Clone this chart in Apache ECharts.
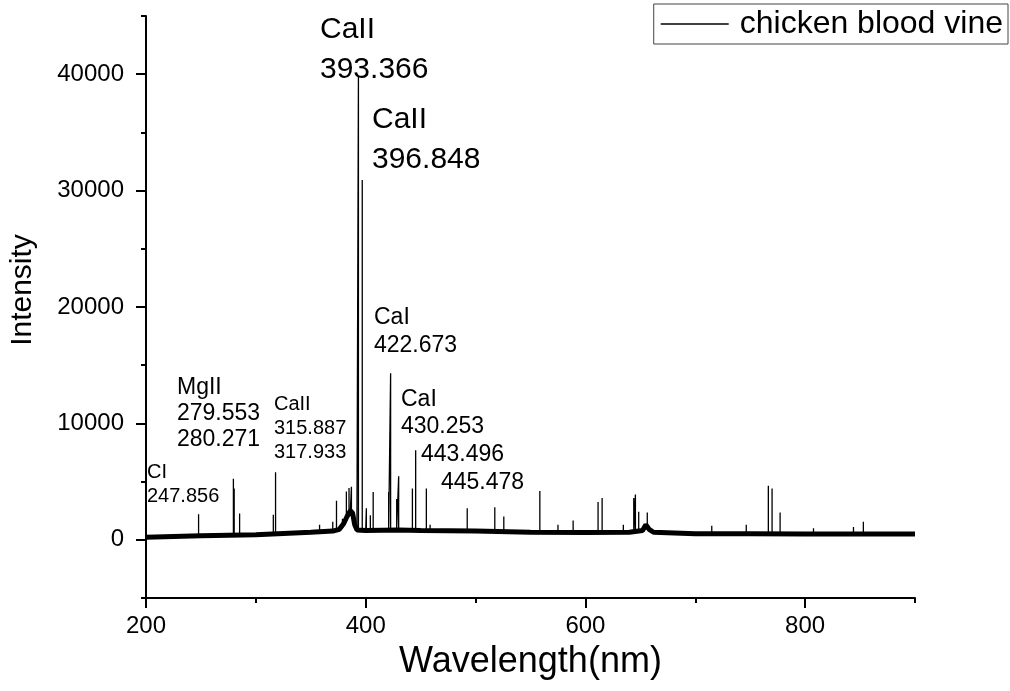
<!DOCTYPE html>
<html>
<head>
<meta charset="utf-8">
<title>chicken blood vine LIBS spectrum</title>
<script src="https://cdn.jsdelivr.net/npm/echarts@6/dist/echarts.min.js"></script>
<style>
  html, body { margin: 0; padding: 0; background: #fff; }
  #chart { width: 1010px; height: 691px; }
</style>
</head>
<body>
<div id="chart"></div>
<script>
// baseline of the spectrum (centre of the noise band)
const baseWl  = [200, 250, 300, 350, 370, 376, 380, 383, 386, 388, 390, 392, 400, 430, 450, 500, 550, 600, 640, 652, 655, 658, 662, 700, 750, 800, 850, 900];
const baseInt = [220, 350, 430, 650, 750, 900, 1400, 2000, 2500, 2300, 1300, 850, 800, 850, 800, 750, 650, 630, 650, 800, 1300, 900, 650, 520, 520, 500, 500, 490];

// emission lines: wavelength, peak top, foot of the peak
const peakWl   = [247.86, 279.55, 280.27, 285.21, 315.89, 317.93, 358.0, 370.0, 373.4, 378.8, 382.4, 384.8, 387.0, 393.37, 396.85, 400.6, 404.2, 406.8, 420.9, 422.67, 428.2, 430.0, 442.5, 445.48, 455.2, 458.6, 492.4, 517.5, 525.7, 558.5, 575.0, 588.8, 611.5, 615.2, 634.5, 644.0, 645.5, 648.5, 656.3, 715.0, 746.4, 766.5, 769.9, 777.2, 807.6, 844.0, 853.0];
const peakTop  = [2200, 5250, 4400, 2250, 2150, 5800, 1300, 1550, 3350, 1800, 4150, 4450, 4550, 39800, 30900, 2700, 2100, 4100, 4100, 14300, 3500, 5450, 4400, 7700, 4400, 1300, 2700, 2800, 2000, 4200, 1300, 1650, 3250, 3600, 1300, 3600, 3900, 2400, 2350, 1200, 1300, 4650, 4400, 2350, 1000, 1100, 1550];
const peakFoot = [350, 420, 420, 420, 500, 500, 650, 750, 800, 1000, 1700, 2300, 2400, 800, 800, 800, 800, 800, 850, 850, 900, 950, 800, 800, 800, 800, 750, 750, 750, 650, 630, 630, 630, 630, 650, 650, 650, 700, 1100, 520, 520, 520, 520, 520, 500, 500, 500];

// line labels
const noteText = ['CaII\n393.366', 'CaII\n396.848', 'CaI\n422.673', 'CaI\n430.253', '443.496', '445.478', 'MgII\n279.553\n280.271', 'CaII\n315.887\n317.933', 'CI\n247.856'];

// axis ticks
const xLabels = [200, 400, 600, 800];
const xMinor  = [300, 500, 700, 900];
const yLabels = [0, 10000, 20000, 30000, 40000];
const yMinor  = [-5000, 5000, 15000, 25000, 35000, 45000];

const seriesName = 'chicken blood vine';
const font = '"Liberation Sans", Arial, sans-serif';

// one polyline: baseline points plus a vertical spike for each line
const trace = [];
baseWl.forEach((w, i) => trace.push([w, baseInt[i]]));
peakWl.forEach((w, i) => {
  trace.push([w, peakFoot[i]]);
  trace.push([w, peakTop[i]]);
  trace.push([w, peakFoot[i]]);
});
trace.sort((a, b) => a[0] - b[0]);

const band = baseWl.map((w, i) => [w, baseInt[i]]);

// label placement (pixels) and font size for each entry of noteText
const notePos = [
  { x: 320, y: 10, size: 30, lh: 40 },
  { x: 372, y: 100, size: 30, lh: 40 },
  { x: 374, y: 304, size: 23, lh: 28 },
  { x: 401, y: 386, size: 23, lh: 27 },
  { x: 421, y: 441, size: 23, lh: 27 },
  { x: 441, y: 469, size: 23, lh: 27 },
  { x: 177, y: 375, size: 23, lh: 26 },
  { x: 274, y: 392, size: 20, lh: 24 },
  { x: 147, y: 460, size: 20, lh: 24 }
];

const chart = echarts.init(document.getElementById('chart'));

const tickStyle = { color: '#000', width: 2 };

const option = {
  animation: false,
  backgroundColor: '#fff',
  grid: { left: 145, right: 95, top: 16, bottom: 93, containLabel: false },
  legend: {
    data: [{ name: seriesName, icon: 'rect' }],
    right: 2,
    top: 4,
    padding: [4, 5, 4, 7],
    borderColor: '#444',
    borderWidth: 1,
    itemWidth: 68,
    itemHeight: 1.5,
    itemStyle: { color: '#000' },
    textStyle: { fontSize: 32, fontFamily: font, color: '#000', padding: [0, 0, 0, 6] }
  },
  xAxis: [
    {
      type: 'value',
      min: 200,
      max: 900,
      position: 'bottom',
      axisLine: { onZero: false, lineStyle: tickStyle },
      axisTick: { inside: false, customValues: xMinor, length: 5, lineStyle: tickStyle },
      axisLabel: { show: false },
      splitLine: { show: false }
    },
    {
      type: 'value',
      min: 200,
      max: 900,
      position: 'bottom',
      axisLine: { show: false, onZero: false },
      axisTick: { inside: false, customValues: xLabels, length: 10, lineStyle: tickStyle },
      axisLabel: { customValues: xLabels, fontSize: 24, fontFamily: font, color: '#000', margin: 16 },
      splitLine: { show: false },
      name: 'Wavelength(nm)',
      nameLocation: 'middle',
      nameGap: 46,
      nameTextStyle: { fontSize: 36, fontFamily: font, color: '#000' }
    }
  ],
  yAxis: [
    {
      type: 'value',
      min: -5000,
      max: 45000,
      position: 'left',
      axisLine: { show: true, onZero: false, lineStyle: tickStyle },
      axisTick: { show: true, inside: false, customValues: yMinor, length: 5, lineStyle: tickStyle },
      axisLabel: { show: false },
      splitLine: { show: false }
    },
    {
      type: 'value',
      min: -5000,
      max: 45000,
      position: 'left',
      axisLine: { show: false, onZero: false },
      axisTick: { show: true, inside: false, customValues: yLabels, length: 10, lineStyle: tickStyle },
      axisLabel: {
        customValues: yLabels,
        formatter: v => String(v),
        fontSize: 24,
        fontFamily: font,
        color: '#000',
        margin: 22
      },
      splitLine: { show: false },
      name: 'Intensity',
      nameLocation: 'middle',
      nameRotate: 90,
      nameGap: 108,
      nameTextStyle: { fontSize: 30, fontFamily: font, color: '#000', padding: [0, 0, 0, 34] }
    }
  ],
  series: [
    {
      name: seriesName,
      type: 'line',
      xAxisIndex: 0,
      yAxisIndex: 0,
      data: trace,
      symbol: 'none',
      lineStyle: { color: '#000', width: 1.3 },
      itemStyle: { color: '#000' }
    },
    {
      name: seriesName,
      type: 'line',
      xAxisIndex: 0,
      yAxisIndex: 0,
      data: band,
      symbol: 'none',
      lineStyle: { color: '#000', width: 5 },
      itemStyle: { color: '#000' }
    }
  ],
  graphic: noteText.map((t, i) => ({
    type: 'text',
    x: notePos[i].x,
    y: notePos[i].y,
    style: {
      text: t,
      fontSize: notePos[i].size,
      fontFamily: font,
      lineHeight: notePos[i].lh,
      fill: '#000',
      align: 'left',
      verticalAlign: 'top'
    }
  }))
};

chart.setOption(option);
</script>
</body>
</html>
